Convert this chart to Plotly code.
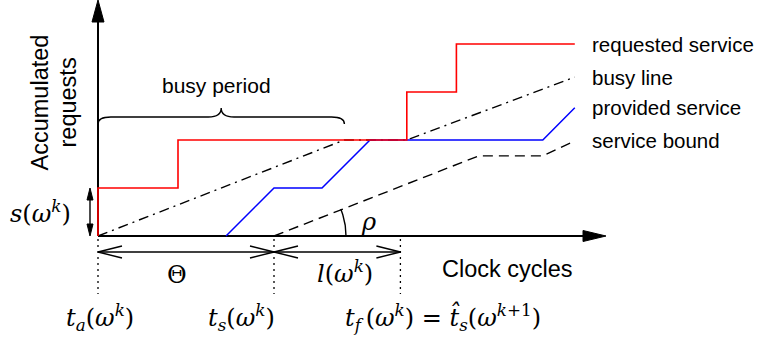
import math
import plotly.graph_objects as go

# --- curves (x in clock cycles, y in accumulated requests) ---
requested_x = [0, 0, 5.0, 5.0, 19.3, 19.3, 22.4, 22.4, 29.8]
requested_y = [0, 1, 1, 2, 2, 3, 3, 4, 4]

busy_x = [0, 15.4, 19.3, 29.8]
busy_y = [0, 2, 2, 3.31]

provided_x = [8, 11, 14, 17, 27.8, 29.8]
provided_y = [0, 1, 1, 2, 2, 2.67]

bound_x = [11, 23.8, 27.8, 29.8]
bound_y = [0, 1.67, 1.67, 1.98]

# time instants marked below the axis
T_A = 0.0
T_S = 11.0
T_F = 18.9
BUSY_END = 15.4
S_OMEGA = 1.0

legend_labels = ["requested service", "busy line", "provided service", "service bound"]

# --- canvas geometry ---
W, H = 758, 337
ORIGIN_PX = (98, 236)
PX_X = 16.0   # pixels per clock cycle
PX_Y = 48.0   # pixels per request
X_RANGE = [-ORIGIN_PX[0] / PX_X, (W - ORIGIN_PX[0]) / PX_X]
Y_RANGE = [-(H - ORIGIN_PX[1]) / PX_Y, ORIGIN_PX[1] / PX_Y]

SANS = "Liberation Sans"
SERIF = "DejaVu Serif"

fig = go.Figure()


def line(x, y, color="black", width=1.5, dash=None):
    fig.add_trace(go.Scatter(x=x, y=y, mode="lines", hoverinfo="skip",
                             line=dict(color=color, width=width, dash=dash)))


def tri(x, y):
    fig.add_trace(go.Scatter(x=x + [x[0]], y=y + [y[0]], mode="lines", fill="toself",
                             fillcolor="black", hoverinfo="skip",
                             line=dict(color="black", width=1)))


dx = 1.0 / PX_X
dy = 1.0 / PX_Y

# axes with filled arrow heads
x_tip = (606 - ORIGIN_PX[0]) * dx
y_tip = Y_RANGE[1]
line([0, x_tip - 22 * dx], [0, 0], width=2)
tri([x_tip, x_tip - 23 * dx, x_tip - 23 * dx], [0, 5.5 * dy, -5.5 * dy])
line([0, 0], [0, y_tip - 20 * dy], width=2)
tri([0, -6 * dx, 6 * dx], [y_tip, y_tip - 22 * dy, y_tip - 22 * dy])

# dotted markers for the time instants
for t in (T_A, T_S, T_F):
    line([t, t], [-3 * dy, -58 * dy], width=1.3, dash="2px,4px")

# curves
line(busy_x, busy_y, width=1.4, dash="10px,5px,2px,5px")
line(bound_x, bound_y, width=1.4, dash="10px,6px")
line(provided_x, provided_y, color="#0000ff", width=1.5)
line(requested_x, requested_y, color="#ff0000", width=1.6)

# double arrows with open heads below the axis (Theta and l(w^k))
ya = -16 * dy
hl, hh = 24 * dx, 6 * dy
for a, b in ((T_A, T_S), (T_S, T_F)):
    line([a, b], [ya, ya], width=1.4)
    line([a + hl, a, a + hl], [ya + hh, ya, ya - hh], width=1.4)
    line([b - hl, b, b - hl], [ya + hh, ya, ya - hh], width=1.4)

# vertical double arrow for s(w^k)
xs = -8 * dx
line([xs, xs], [0.2, S_OMEGA - 0.2], width=1.4)
tri([xs, xs - 3 * dx, xs + 3 * dx], [S_OMEGA, S_OMEGA - 12 * dy, S_OMEGA - 12 * dy])
tri([xs, xs - 3 * dx, xs + 3 * dx], [0, 12 * dy, 12 * dy])

# angle arc for rho at the start of the service bound
r_px = 72
ang = [math.radians(a) for a in range(0, 23)]
line([T_S + r_px * math.cos(a) * dx for a in ang],
     [r_px * math.sin(a) * dy for a in ang], width=1.4)

# curly brace over the busy period
y_low, y_line, y_tip_b = 112 * dy, 119 * dy, 128 * dy
x0, x1 = T_A, BUSY_END
xm = (x0 + x1) / 2
r = 0.8
brace = (f"M {x0},{y_low} Q {x0},{y_line} {x0 + r},{y_line} "
         f"L {xm - r},{y_line} Q {xm},{y_line} {xm},{y_tip_b} "
         f"Q {xm},{y_line} {xm + r},{y_line} "
         f"L {x1 - r},{y_line} Q {x1},{y_line} {x1},{y_low}")
fig.add_shape(type="path", path=brace, xref="x", yref="y",
              line=dict(color="black", width=1.4))


def text(x, y, s, size, family=SANS, xanchor="center", angle=0):
    fig.add_annotation(x=x, y=y, text=s, showarrow=False, xanchor=xanchor,
                       yanchor="middle", textangle=angle,
                       font=dict(family=family, size=size, color="black"))


# labels at the end of each curve
ends = [(requested_x[-1], requested_y[-1]), (busy_x[-1], busy_y[-1]),
        (provided_x[-1], provided_y[-1]), (bound_x[-1], bound_y[-1])]
for (ex, ey), lab in zip(ends, legend_labels):
    text(ex + 0.95, ey, lab, 20.5, xanchor="left")

text(xm - 0.3, 3.13, "busy period", 21)
text(-3.6, 2.79, "Accumulated", 23.5, angle=-90)
text(-1.85, 2.79, "requests", 23.5, angle=-90)
text(25.6, -0.69, "Clock cycles", 23.5)

MATH = 24
text(-3.6, 0.5, "<i>s</i>(<i>ω</i><sup><i>k</i></sup>)", MATH, SERIF)
text(16.9, 0.3, "<i>ρ</i>", MATH, SERIF)
text(4.95, -0.81, "Θ", MATH, SERIF)
text(15.45, -0.75, "<i>l</i>(<i>ω</i><sup><i>k</i></sup>)", MATH, SERIF)
text(0.1, -1.69, "<i>t</i><sub><i>a</i></sub>(<i>ω</i><sup><i>k</i></sup>)", MATH, SERIF)
text(8.95, -1.69, "<i>t</i><sub><i>s</i></sub>(<i>ω</i><sup><i>k</i></sup>)", MATH, SERIF)
text(21.55, -1.69,
     "<i>t</i><sub><i>f</i></sub>\u2009(<i>ω</i><sup><i>k</i></sup>) = "
     "<i>t\u0302</i><sub><i>s</i></sub>(<i>ω</i><sup><i>k</i>+1</sup>)", MATH, SERIF)

fig.update_layout(
    width=W, height=H, margin=dict(l=0, r=0, t=0, b=0),
    paper_bgcolor="white", plot_bgcolor="white", showlegend=False,
    xaxis=dict(range=X_RANGE, visible=False, fixedrange=True),
    yaxis=dict(range=Y_RANGE, visible=False, fixedrange=True),
)

fig.write_html("out.html")
